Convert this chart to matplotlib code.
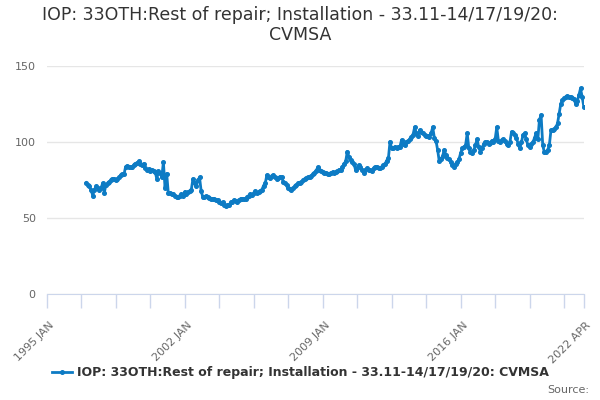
import matplotlib
matplotlib.use("Agg")
import matplotlib.pyplot as plt
import numpy as np

title = "IOP: 33OTH:Rest of repair; Installation - 33.11-14/17/19/20:\nCVMSA"
series_name = "IOP: 33OTH:Rest of repair; Installation - 33.11-14/17/19/20: CVMSA"

# monthly values, 1997 JAN .. 2022 APR
v1997 = [73.5, 72, 71, 68.5, 65, 69, 71, 70, 68.5, 70, 73, 67]
v1998 = [72, 73, 74, 75, 76, 76, 75.5, 76, 77, 78.5, 79, 79]
v1999 = [84, 84.5, 84, 83.5, 84, 85, 86, 86.5, 87.5, 86, 85, 86]
v2000 = [83, 82, 82.5, 81.5, 82, 81, 80.5, 76, 81, 80, 77, 87]
v2001 = [70, 79.5, 66.5, 67, 66, 66, 65, 64, 64, 65, 66, 65]
v2002 = [67.5, 66, 67.5, 68, 69, 76, 73, 71, 75, 77, 68, 64]
v2003 = [64, 64.5, 64, 63.5, 63, 63, 62.5, 62, 62, 61, 60, 60.5]
v2004 = [59, 58, 58.5, 59, 60.5, 61, 62, 61.5, 61, 62, 63, 62.5]
v2005 = [63, 62.5, 64, 65, 66, 65.5, 66.5, 68, 67, 67.5, 68, 69]
v2006 = [71.5, 73, 78.5, 77, 76.5, 78, 78.5, 77, 76, 76.5, 77.5, 77]
v2007 = [74, 73, 72, 70, 69.5, 68.5, 70, 71, 72, 73, 73.5, 74]
v2008 = [75, 76, 76.5, 77, 77.5, 78, 79, 80, 81.5, 83.5, 82, 81.5]
v2009 = [80.5, 80, 80, 79.5, 79.5, 80, 80.5, 80, 80.5, 81, 82, 82]
v2010 = [84, 86, 87.5, 94, 90.5, 88.5, 87, 86, 82, 83, 85, 84]
v2011 = [82, 80, 82, 83, 82, 82, 81.5, 83, 83.5, 84, 83, 83]
v2012 = [84, 85, 86, 88, 89.5, 100.5, 96, 96.5, 97, 96.5, 97, 97]
v2013 = [101.5, 99, 98, 100.5, 101, 102, 103.5, 105, 110, 106, 104.5, 108]
v2014 = [107, 106, 105, 104.5, 104, 103.5, 106, 110, 103, 101, 95, 87.5]
v2015 = [89, 91, 95, 92, 90, 89, 87, 85, 84, 86, 87, 89]
v2016 = [93, 96, 97, 98, 106, 96, 94, 93, 95, 98, 102, 97]
v2017 = [94, 96, 99, 100, 100, 99, 99.5, 101, 100, 102, 110, 101]
v2018 = [100, 101.5, 102, 101, 99, 98, 100, 107, 106, 105, 103, 99]
v2019 = [96, 100, 105, 106, 102, 98, 97, 99, 100, 103, 106, 102]
v2020 = [115, 118, 98, 93.5, 94, 95, 98, 108, 108, 108.5, 110, 112.5]
v2021 = [119, 125.5, 128, 129, 130, 130.5, 130, 130, 129, 128.5, 125.5, 127]
v2022 = [131, 135.5, 130, 123.5]

values = (v1997 + v1998 + v1999 + v2000 + v2001 + v2002 + v2003 + v2004 + v2005 +
          v2006 + v2007 + v2008 + v2009 + v2010 + v2011 + v2012 + v2013 + v2014 +
          v2015 + v2016 + v2017 + v2018 + v2019 + v2020 + v2021 + v2022)

x_tick_labels = ["1995 JAN", "2002 JAN", "2009 JAN", "2016 JAN", "2022 APR"]
x_tick_pos = [0, 84, 168, 252, 327]   # months since 1995 JAN
y_ticks = [0, 50, 100, 150]

start_month = 24  # 1997 JAN
xs = np.arange(start_month, start_month + len(values))

color = "#0d7bc4"
fig = plt.figure(figsize=(6, 4), dpi=100)
ax = fig.add_axes([0.078, 0.264, 0.895, 0.570])

ax.plot(xs, values, color=color, lw=2, marker="o", ms=2.6, zorder=3)

ax.set_xlim(0, 327)
ax.set_ylim(0, 150)
ax.set_yticks(y_ticks)
ax.set_yticklabels([str(t) for t in y_ticks], color="#666666", fontsize=8)
ax.yaxis.grid(True, color="#e6e6e6", lw=1)
ax.set_axisbelow(True)
ax.tick_params(axis="y", length=0, pad=8)

minor = list(range(0, 327, 21)) + [327]
ax.set_xticks(minor)
ax.set_xticklabels([""] * len(minor))
ax.tick_params(axis="x", length=10, color="#ccd6eb", width=1, direction="out")
for p, lab in zip(x_tick_pos, x_tick_labels):
    ax.text(p + 1, -17, lab, rotation=45, ha="right", va="top", fontsize=8,
            color="#666666", rotation_mode="anchor")

for s in ["top", "right", "left"]:
    ax.spines[s].set_visible(False)
ax.spines["bottom"].set_color("#ccd6eb")

fig.text(0.5, 0.985, title, ha="center", va="top", fontsize=12.5, color="#333333",
         linespacing=1.15)

fig.legend([plt.Line2D([], [], color=color, lw=2, marker="o", ms=2.6)], [series_name],
           loc="center", bbox_to_anchor=(0.5, 0.068), frameon=False,
           prop={"size": 9, "weight": "bold"}, labelcolor="#333333",
           handlelength=1.6, handletextpad=0.4)
fig.text(0.982, 0.025, "Source:", ha="right", va="center", fontsize=8, color="#666666")

fig.savefig("out.png", dpi=100)
